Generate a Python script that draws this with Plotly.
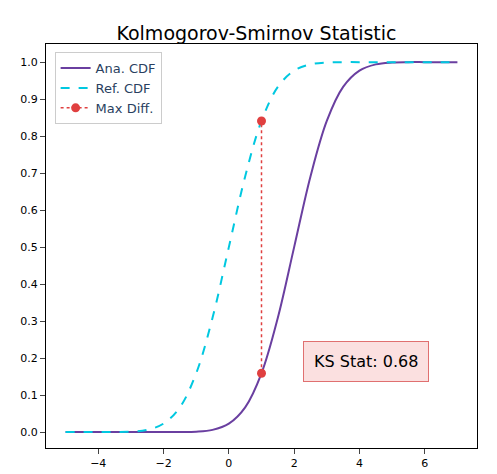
import plotly.graph_objects as go

x_vals = [-5,-4.5,-4,-3.5,-3,-2.5,-2,-1.5,-1,-0.5,0,0.5,1,1.5,2,2.5,3,3.5,4,4.5,5,5.5,6,6.5,7]
ref_cdf = [0,0,0,0.0002,0.001,0.006,0.023,0.067,0.159,0.309,0.5,0.691,0.841,0.933,0.977,0.994,0.999,1,1,1,1,1,1,1,1]
ana_cdf = [0,0,0,0,0,0,0,0.0002,0.001,0.006,0.023,0.067,0.159,0.309,0.5,0.691,0.841,0.933,0.977,0.994,0.999,1,1,1,1]
max_x = [1, 1]
max_y = [0.159, 0.841]
ks_text = "KS Stat: 0.68"

fig = go.Figure()
fig.add_trace(go.Scatter(x=x_vals, y=ana_cdf, mode="lines", name="Ana. CDF",
                         line=dict(color="#6a3fa0", width=2, shape="spline")))
fig.add_trace(go.Scatter(x=x_vals, y=ref_cdf, mode="lines", name="Ref. CDF",
                         line=dict(color="#00c8e0", width=2, dash="dash", shape="spline")))
fig.add_trace(go.Scatter(x=max_x, y=max_y, mode="lines+markers", name="Max Diff.",
                         line=dict(color="#e04040", width=1.5, dash="dot"),
                         marker=dict(color="#e04040", size=9)))
fig.add_annotation(x=4.2, y=0.19, text=ks_text, showarrow=False, xref="x", yref="y",
                   font=dict(size=16, color="black"), bgcolor="#fbe0e0",
                   bordercolor="#e07070", borderwidth=1, borderpad=10)
axis = dict(showline=True, linecolor="black", mirror=True, ticks="outside", showgrid=False,
            zeroline=False, tickfont=dict(size=11, color="black"))
fig.update_layout(
    width=497, height=474, plot_bgcolor="white", paper_bgcolor="white",
    margin=dict(l=36, r=28, t=36, b=28),
    title=dict(text="Kolmogorov-Smirnov Statistic", x=0.5, xanchor="center", y=0.96,
               font=dict(size=19, color="black", family="DejaVu Sans")),
    font=dict(family="DejaVu Sans"),
    xaxis=dict(range=[-5.6, 7.6], tickvals=[-4,-2,0,2,4,6], **axis),
    yaxis=dict(range=[-0.043, 1.049], tickvals=[i/10 for i in range(11)],
               tickformat=".1f", **axis),
    legend=dict(x=0.02, y=0.98, xanchor="left", yanchor="top", bgcolor="white",
                bordercolor="#cccccc", borderwidth=1, font=dict(size=13)),
)
fig.write_html("out.html")
